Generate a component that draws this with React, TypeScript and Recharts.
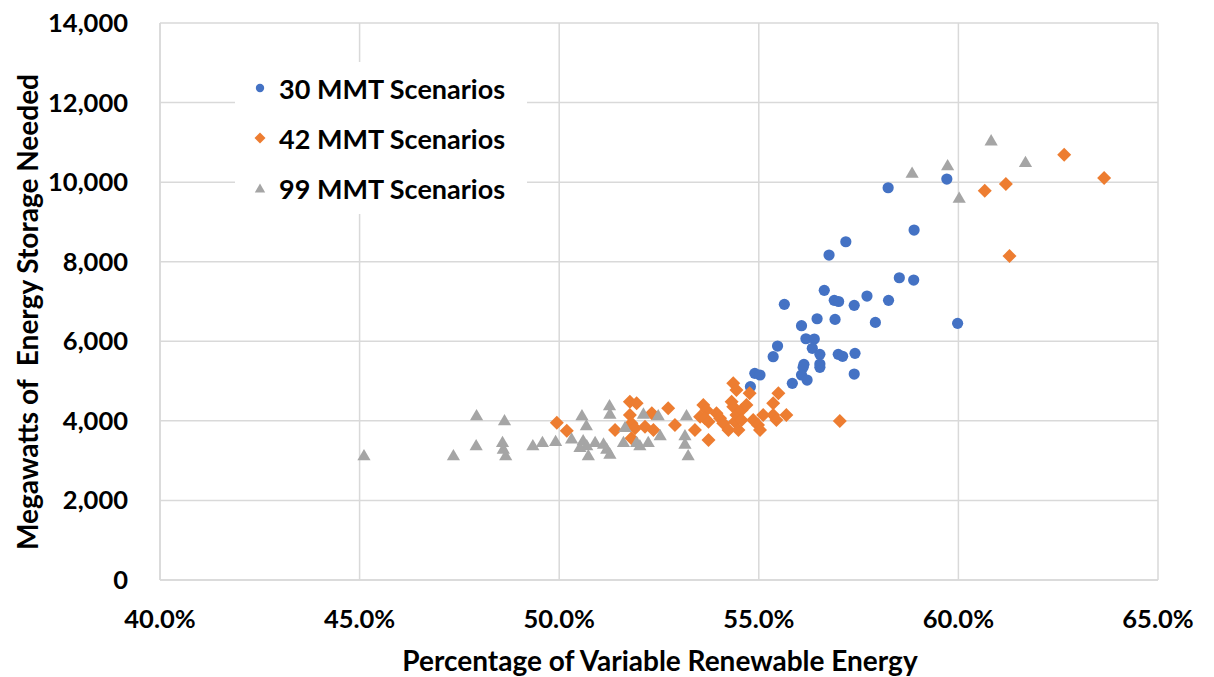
import React from 'react';
import { ScatterChart, Scatter, XAxis, YAxis, CartesianGrid, Legend } from 'recharts';

const xTicks = [40, 45, 50, 55, 60, 65];
const yTicks = [0, 2000, 4000, 6000, 8000, 10000, 12000, 14000];

const mmt30X = [58.89, 57.18, 56.76, 58.52, 58.88, 56.64, 56.89, 57.0, 55.64, 57.71, 57.39, 58.25, 56.46, 56.91, 57.92, 56.07, 56.18, 56.39, 55.47, 56.34, 56.53, 55.36, 56.99, 57.1, 57.41, 56.13, 56.11, 56.53, 56.53, 54.9, 55.03, 56.07, 56.21, 57.39, 55.84, 54.79, 58.24, 59.71, 59.98];
const mmt30Y = [8796, 8502, 8167, 7597, 7539, 7280, 7029, 7000, 6928, 7137, 6903, 7029, 6567, 6550, 6475, 6392, 6064, 6056, 5880, 5823, 5672, 5612, 5672, 5622, 5697, 5420, 5345, 5428, 5345, 5194, 5152, 5152, 5026, 5177, 4943, 4858, 9859, 10077, 6451];

const mmt42X = [60.66, 61.19, 62.65, 63.65, 61.28, 57.03, 49.94, 50.19, 51.77, 51.94, 51.4, 51.77, 51.81, 51.9, 52.32, 52.15, 52.36, 51.81, 52.73, 52.9, 53.4, 53.61, 53.69, 53.53, 53.65, 53.74, 53.74, 53.94, 54.03, 54.11, 54.24, 54.36, 54.44, 54.32, 54.36, 54.44, 54.4, 54.49, 54.57, 54.69, 54.77, 54.57, 54.86, 54.98, 55.03, 55.11, 55.36, 55.49, 55.36, 55.44, 55.69];
const mmt42Y = [9783, 9952, 10688, 10102, 8142, 3996, 3953, 3752, 4481, 4440, 3770, 4146, 3937, 3812, 4189, 3853, 3770, 3561, 4314, 3895, 3770, 4398, 4272, 4104, 4063, 3979, 3518, 4189, 4063, 3937, 3770, 4943, 4775, 4481, 4356, 4146, 3979, 3770, 4272, 4398, 4692, 4021, 4021, 3895, 3770, 4146, 4440, 4692, 4146, 4021, 4146];

const mmt99X = [45.11, 47.35, 47.93, 47.92, 48.63, 48.58, 48.6, 48.66, 49.34, 49.58, 49.91, 50.57, 50.68, 51.26, 51.27, 50.31, 50.6, 50.69, 50.73, 50.52, 50.9, 51.11, 51.19, 51.27, 51.65, 51.61, 51.94, 52.02, 52.11, 52.48, 52.23, 52.53, 53.19, 53.15, 53.15, 53.23, 58.84, 59.73, 60.02, 60.82, 61.68];
const mmt99Y = [3141, 3141, 4146, 3392, 4020, 3476, 3309, 3141, 3392, 3476, 3501, 4146, 3895, 4398, 4189, 3561, 3518, 3392, 3141, 3350, 3476, 3435, 3309, 3183, 3853, 3476, 3476, 3392, 4189, 4146, 3476, 3644, 4146, 3644, 3435, 3141, 10245, 10430, 9617, 11057, 10512];

const seriesNames = ['30 MMT Scenarios', '42 MMT Scenarios', '99 MMT Scenarios'];
const seriesColors = ['#4472C4', '#ED7D31', '#A5A5A5'];

const toPoints = (xs: number[], ys: number[]) => xs.map((x, i) => ({ x, y: ys[i] }));
const data30 = toPoints(mmt30X, mmt30Y);
const data42 = toPoints(mmt42X, mmt42Y);
const data99 = toPoints(mmt99X, mmt99Y);

const FONT = 'Lato, "Open Sans", sans-serif';

const CircleShape = (p: any) => <circle cx={p.cx} cy={p.cy} r={5.6} fill={seriesColors[0]} />;
const DiamondShape = (p: any) => {
  const s = 7;
  return (
    <polygon
      points={`${p.cx},${p.cy - s} ${p.cx + s},${p.cy} ${p.cx},${p.cy + s} ${p.cx - s},${p.cy}`}
      fill={seriesColors[1]}
    />
  );
};
const TriangleShape = (p: any) => (
  <polygon
    points={`${p.cx - 6.6},${p.cy + 5.3} ${p.cx + 6.6},${p.cy + 5.3} ${p.cx},${p.cy - 6}`}
    fill={seriesColors[2]}
  />
);

const LegendMarker = ({ i }: { i: number }) => {
  if (i === 0) return <svg width={14} height={14}><circle cx={7} cy={7} r={4.2} fill={seriesColors[0]} /></svg>;
  if (i === 1) return <svg width={14} height={14}><polygon points="7,1.5 12.5,7 7,12.5 1.5,7" fill={seriesColors[1]} /></svg>;
  return <svg width={14} height={14}><polygon points="1.8,11.5 12.2,11.5 7,2.5" fill={seriesColors[2]} /></svg>;
};

const LegendContent = () => (
  <div style={{ background: '#fff', width: '100%', height: '100%', paddingTop: 1, boxSizing: 'border-box' }}>
    {seriesNames.map((n, i) => (
      <div key={n} style={{ display: 'flex', alignItems: 'center', height: 50, paddingLeft: 18 }}>
        <LegendMarker i={i} />
        <span style={{ marginLeft: 12, fontFamily: FONT, fontWeight: 700, fontSize: 27, color: '#000' }}>{n}</span>
      </div>
    ))}
  </div>
);

export default function App() {
  return (
    <div style={{ position: 'absolute', left: 0, top: 0, width: 1214, height: 677, background: '#fff' }}>
      <ScatterChart width={1214} height={677} margin={{ top: 23, right: 56, bottom: 0, left: 0 }}>
        <CartesianGrid stroke="#d9d9d9" strokeWidth={1.5} horizontalValues={yTicks} verticalValues={xTicks} />
        <XAxis
          type="number"
          dataKey="x"
          domain={[40, 65]}
          ticks={xTicks}
          interval={0}
          height={97}
          tickFormatter={(v: number) => v.toFixed(1) + '%'}
          axisLine={{ stroke: '#d9d9d9', strokeWidth: 1.5 }}
          tickLine={false}
          tickMargin={24}
          tick={{ fill: '#000', fontFamily: FONT, fontWeight: 700, fontSize: 25.5 }}
          allowDataOverflow
          label={{
            content: () => (
              <text x={660} y={671} textAnchor="middle" fontFamily={FONT} fontWeight={700} fontSize={28} fill="#000">
                Percentage of Variable Renewable Energy
              </text>
            ),
          }}
        />
        <YAxis
          type="number"
          dataKey="y"
          domain={[0, 14000]}
          ticks={yTicks}
          interval={0}
          width={160}
          tickFormatter={(v: number) => v.toLocaleString('en-US')}
          axisLine={{ stroke: '#d9d9d9', strokeWidth: 1.5 }}
          tickLine={false}
          tickMargin={26}
          tick={{ fill: '#000', fontFamily: FONT, fontWeight: 700, fontSize: 25.5 }}
          allowDataOverflow
          label={{
            content: () => (
              <text
                x={38}
                y={312}
                transform="rotate(-90 38 312)"
                textAnchor="middle"
                fontFamily={FONT}
                fontWeight={700}
                fontSize={28}
                fill="#000"
                style={{ whiteSpace: 'pre' }}
              >
                {'Megawatts of  Energy Storage Needed'}
              </text>
            ),
          }}
        />
        <Legend
          layout="vertical"
          align="center"
          verticalAlign="middle"
          content={LegendContent}
          wrapperStyle={{ left: 235, top: 62, width: 292, height: 152 }}
        />
        <Scatter name={seriesNames[0]} data={data30} fill={seriesColors[0]} shape={CircleShape} isAnimationActive={false} />
        <Scatter name={seriesNames[1]} data={data42} fill={seriesColors[1]} shape={DiamondShape} isAnimationActive={false} />
        <Scatter name={seriesNames[2]} data={data99} fill={seriesColors[2]} shape={TriangleShape} isAnimationActive={false} />
      </ScatterChart>
    </div>
  );
}
